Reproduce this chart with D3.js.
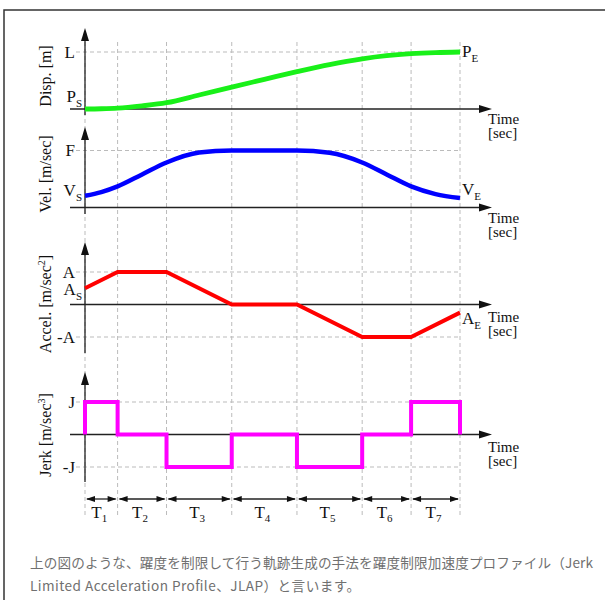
<!DOCTYPE html>
<html>
<head>
<meta charset="utf-8">
<script src="https://cdn.jsdelivr.net/npm/d3@7"></script>
<style>
  body { margin: 0; background: #fff; }
  svg { display: block; }
  .lbl { font-family: "Liberation Serif", "DejaVu Serif", serif; fill: #111; }
  .cap { font-family: "Noto Sans CJK JP", "Noto Sans", sans-serif; fill: #707070; font-size: 13.6px; }
</style>
</head>
<body>
<div id="chart"></div>
<script>
// phase boundaries (time units), T1..T7 between them
var phaseTimes = [0, 1, 2.5, 4.5, 6.5, 8.5, 10, 11.5];
var phaseNames = ["1", "2", "3", "4", "5", "6", "7"];

// displacement (fraction of L)
var dispTime = [0, 0.5, 1, 1.75, 2.5, 3.5, 4.5, 5.5, 6.5, 7.5, 8.5, 9.25, 10, 10.75, 11.5];
var dispVal  = [0, 0.004, 0.015, 0.055, 0.11, 0.245, 0.385, 0.52, 0.655, 0.78, 0.88, 0.935, 0.97, 0.99, 1.0];

// velocity (fraction of F)
var velTime = [0, 0.5, 1, 1.75, 2.5, 3.5, 4.5, 6.5, 7.5, 8.5, 9.25, 10, 10.75, 11.5];
var velVal  = [0.205, 0.27, 0.37, 0.58, 0.79, 0.965, 1, 1, 0.96, 0.79, 0.58, 0.37, 0.235, 0.165];

// acceleration at the phase boundaries (fraction of A)
var accVal = [0.5, 1, 1, 0, 0, -1, -1, -0.25];

// jerk level in each phase (fraction of J)
var jerkVal = [1, 0, -1, 0, -1, 0, 1];

var width = 605, height = 600;
var svg = d3.select("#chart").append("svg")
    .attr("width", width)
    .attr("height", height);

// outer frame
svg.append("rect")
    .attr("x", 4).attr("y", 10)
    .attr("width", 620).attr("height", 620)
    .attr("fill", "none")
    .attr("stroke", "#333")
    .attr("stroke-width", 1.5);

var x = d3.scaleLinear().domain([0, 11.5]).range([85, 460]);

// panel layout
var panels = [
    {name: "disp", dom: [0, 1], range: [109, 52], top: 28, bottom: 115, tdy: [15, 29],
     title: [["Disp. [m]"]], titleY: 76,
     levels: [{v: 1, t: "L"}], start: {t: "P", s: "S", dy: -7}, end: {t: "P", s: "E", dy: 5},
     color: "#19f019", sw: 4.8},
    {name: "vel", dom: [0, 1], range: [207.5, 150.5], top: 127, bottom: 214, tdy: [15, 29],
     title: [["Vel. [m/sec]"]], titleY: 174,
     levels: [{v: 1, t: "F"}], start: {t: "V", s: "S", dy: 0}, end: {t: "V", s: "E", dy: -3.5},
     color: "#0000ff", sw: 4.5},
    {name: "acc", dom: [-1, 1], range: [337, 272], top: 242, bottom: 353, tdy: [17, 31],
     title: [["Accel. [m/sec"], ["2", "sup"], ["]"]], titleY: 304,
     levels: [{v: 1, t: "A"}, {v: -1, t: "-A"}], start: {t: "A", s: "S", dy: 6.5}, end: {t: "A", s: "E", dy: 11.5},
     color: "#ff0000", sw: 4},
    {name: "jerk", dom: [-1, 1], range: [467, 402], top: 372, bottom: 482, tdy: [17, 31],
     title: [["Jerk [m/sec"], ["3", "sup"], ["]"]], titleY: 435,
     levels: [{v: 1, t: "J"}, {v: -1, t: "-J"}], start: null, end: null,
     color: "#ff00ff", sw: 4}
];

// vertical dashed grid at every phase boundary
svg.append("g").selectAll("line")
    .data(phaseTimes)
    .join("line")
    .attr("x1", d => x(d)).attr("x2", d => x(d))
    .attr("y1", 42).attr("y2", 515)
    .attr("stroke", "#bbb")
    .attr("stroke-width", 1)
    .attr("stroke-dasharray", "4,3");

function arrowHead(g, tipX, tipY, dir, len, half) {
    // dir: "right", "up", "left"
    var pts;
    if (dir === "right") pts = [[tipX, tipY], [tipX - len, tipY - half], [tipX - len, tipY + half]];
    else if (dir === "left") pts = [[tipX, tipY], [tipX + len, tipY - half], [tipX + len, tipY + half]];
    else pts = [[tipX, tipY], [tipX - half, tipY + len], [tipX + half, tipY + len]];
    g.append("path").attr("d", "M" + pts.join("L") + "Z").attr("fill", "#111");
}

var dataFor = {
    disp: dispTime.map((t, i) => [t, dispVal[i]]),
    vel: velTime.map((t, i) => [t, velVal[i]]),
    acc: phaseTimes.map((t, i) => [t, accVal[i]]),
    jerk: [[0, 0]].concat(jerkVal.map((j, i) => [phaseTimes[i], j]), [[11.5, 1], [11.5, 0]])
};
var curves = {disp: d3.curveMonotoneX, vel: d3.curveMonotoneX, acc: d3.curveLinear, jerk: d3.curveStepAfter};

panels.forEach(function(p) {
    var y = d3.scaleLinear().domain(p.dom).range(p.range);
    var g = svg.append("g");
    var y0 = y(0);

    // horizontal dashed level lines
    p.levels.forEach(function(l) {
        g.append("line")
            .attr("x1", 76).attr("x2", x(11.5))
            .attr("y1", y(l.v)).attr("y2", y(l.v))
            .attr("stroke", "#bbb")
            .attr("stroke-dasharray", "4,3");
        g.append("text").attr("class", "lbl")
            .attr("x", 75).attr("y", y(l.v) + 5.5)
            .attr("text-anchor", "end")
            .attr("font-size", 17)
            .text(l.t);
    });

    // axes
    g.append("line")
        .attr("x1", 70).attr("x2", 482)
        .attr("y1", y0).attr("y2", y0)
        .attr("stroke", "#222").attr("stroke-width", 1.3);
    arrowHead(g, 492, y0, "right", 13, 4);
    g.append("line")
        .attr("x1", x(0)).attr("x2", x(0))
        .attr("y1", p.top + 8).attr("y2", p.bottom)
        .attr("stroke", "#222").attr("stroke-width", 1.3);
    arrowHead(g, x(0), p.top, "up", 13, 4);

    // Time [sec]
    g.append("text").attr("class", "lbl")
        .attr("x", 488).attr("y", y0 + p.tdy[0])
        .attr("font-size", 15).text("Time");
    g.append("text").attr("class", "lbl")
        .attr("x", 488).attr("y", y0 + p.tdy[1])
        .attr("font-size", 15).text("[sec]");

    // rotated axis title
    var tt = g.append("text").attr("class", "lbl")
        .attr("transform", "translate(51," + p.titleY + ") rotate(-90)")
        .attr("text-anchor", "middle")
        .attr("font-size", 16);
    p.title.forEach(function(part) {
        var ts = tt.append("tspan").text(part[0]);
        if (part[1] === "sup") ts.attr("font-size", 10).attr("dy", -6);
        else if (tt.selectAll("tspan").size() > 1) ts.attr("dy", 6);
    });

    // the curve
    var line = d3.line()
        .x(d => x(d[0]))
        .y(d => y(d[1]))
        .curve(curves[p.name]);
    g.append("path")
        .datum(dataFor[p.name])
        .attr("d", line)
        .attr("fill", "none")
        .attr("stroke", p.color)
        .attr("stroke-width", p.sw)
        .attr("stroke-linejoin", "miter");

    // start / end labels
    var d0 = dataFor[p.name][0], dn = dataFor[p.name][dataFor[p.name].length - 1];
    if (p.start) {
        var st = g.append("text").attr("class", "lbl")
            .attr("x", 82).attr("y", y(d0[1]) + p.start.dy)
            .attr("text-anchor", "end")
            .attr("font-size", 17);
        st.append("tspan").text(p.start.t);
        st.append("tspan").attr("font-size", 11).attr("dy", 5).text(p.start.s);
    }
    if (p.end) {
        var en = g.append("text").attr("class", "lbl")
            .attr("x", 462).attr("y", y(dn[1]) + p.end.dy)
            .attr("font-size", 17);
        en.append("tspan").text(p.end.t);
        en.append("tspan").attr("font-size", 11).attr("dy", 5).text(p.end.s);
    }
});

// phase duration arrows T1..T7
var tg = svg.append("g");
phaseNames.forEach(function(n, i) {
    var a = x(phaseTimes[i]), b = x(phaseTimes[i + 1]), yy = 499;
    tg.append("line")
        .attr("x1", a + 2).attr("x2", b - 2)
        .attr("y1", yy).attr("y2", yy)
        .attr("stroke", "#222").attr("stroke-width", 1.3);
    arrowHead(tg, a + 1, yy, "left", 9, 3);
    arrowHead(tg, b - 1, yy, "right", 9, 3);
    var t = tg.append("text").attr("class", "lbl")
        .attr("x", (a + b) / 2 - 2).attr("y", 518)
        .attr("text-anchor", "middle")
        .attr("font-size", 17);
    t.append("tspan").text("T");
    t.append("tspan").attr("font-size", 11).attr("dy", 4).text(n);
});

// caption
svg.append("text").attr("class", "cap")
    .attr("x", 30).attr("y", 568)
    .attr("textLength", 563).attr("lengthAdjust", "spacing")
    .text("上の図のような、躍度を制限して行う軌跡生成の手法を躍度制限加速度プロファイル（Jerk");
svg.append("text").attr("class", "cap")
    .attr("x", 30).attr("y", 591)
    .attr("textLength", 330).attr("lengthAdjust", "spacing")
    .text("Limited Acceleration Profile、JLAP）と言います。");
</script>
</body>
</html>
